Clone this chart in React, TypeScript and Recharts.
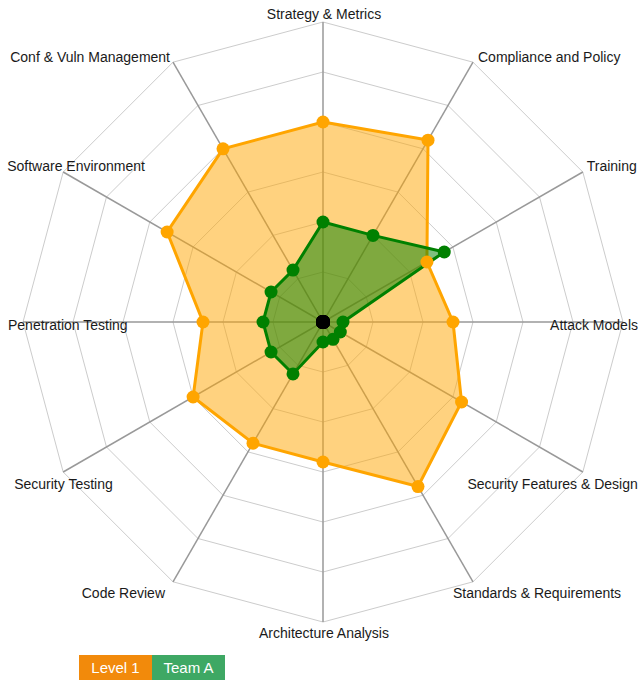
import { Legend, PolarAngleAxis, PolarGrid, PolarRadiusAxis, Radar, RadarChart } from "recharts";

const categories = [
  "Strategy & Metrics",
  "Compliance and Policy",
  "Training",
  "Attack Models",
  "Security Features & Design",
  "Standards & Requirements",
  "Architecture Analysis",
  "Code Review",
  "Security Testing",
  "Penetration Testing",
  "Software Environment",
  "Conf & Vuln Management",
];

const level1 = [4.0, 4.2, 2.4, 2.6, 3.2, 3.8, 2.8, 2.8, 3.0, 2.4, 3.6, 4.0];
const teamA = [2.0, 2.0, 2.8, 0.4, 0.4, 0.4, 0.4, 1.2, 1.2, 1.2, 1.2, 1.2];
const origin = [0, 0, 0, 0, 0, 0, 0, 0, 0, 0, 0, 0];

const data = categories.map((axis, i) => ({
  axis,
  level1: level1[i],
  teamA: teamA[i],
  origin: origin[i],
}));

const FONT = "Helvetica, Arial, 'Liberation Sans', sans-serif";
const TICK_GAP = 8; // recharts pushes angle ticks this far past the outer ring

// label placement relative to the end of each spoke, clockwise from the top
const LABEL_LAYOUT: { anchor: "start" | "middle" | "end"; dx: number; dy: number }[] = [
  { anchor: "middle", dx: 1, dy: -8 },
  { anchor: "start", dx: 5, dy: -5 },
  { anchor: "end", dx: 54, dy: -6 },
  { anchor: "end", dx: 15, dy: 3 },
  { anchor: "end", dx: 55, dy: 12 },
  { anchor: "start", dx: -20, dy: 11 },
  { anchor: "middle", dx: 1, dy: 11 },
  { anchor: "end", dx: -8, dy: 11 },
  { anchor: "start", dx: -49, dy: 12 },
  { anchor: "start", dx: -15, dy: 3 },
  { anchor: "start", dx: -56, dy: -6 },
  { anchor: "end", dx: -3, dy: -5 },
];

function AxisLabel(props: any) {
  const { x, y, payload, index } = props;
  const l = LABEL_LAYOUT[index] ?? { anchor: "middle", dx: 0, dy: 0 };
  const rad = (-(payload.coordinate ?? 0) * Math.PI) / 180;
  const ex = x - TICK_GAP * Math.cos(rad);
  const ey = y - TICK_GAP * Math.sin(rad);
  return (
    <text
      x={ex + l.dx}
      y={ey + l.dy}
      textAnchor={l.anchor}
      dominantBaseline="central"
      fontSize={14}
      fontFamily={FONT}
      fill="#1a1a1a"
    >
      {payload.value}
    </text>
  );
}

const LEGEND_COLORS: Record<string, string> = {
  level1: "#f28a0b",
  teamA: "#3ea864",
};

function LegendBoxes({ payload }: any) {
  return (
    <div style={{ display: "flex" }}>
      {(payload ?? []).map((p: any) => (
        <div
          key={p.value}
          style={{
            width: 73,
            height: 28,
            lineHeight: "26px",
            textAlign: "center",
            background: LEGEND_COLORS[p.dataKey] ?? p.color,
            color: "#fff",
            fontFamily: FONT,
            fontSize: 15,
          }}
        >
          {p.value}
        </div>
      ))}
    </div>
  );
}

export default function App() {
  return (
    <div style={{ position: "absolute", left: 0, top: 0, width: 640, height: 680, background: "#fff" }}>
      <RadarChart
        width={640}
        height={680}
        data={data}
        cx={323}
        cy={322}
        outerRadius={300}
        margin={{ top: 0, right: 0, bottom: 0, left: 0 }}
      >
        <PolarGrid gridType="polygon" stroke="#cccccc" strokeWidth={1} radialLines={false} />
        <PolarRadiusAxis domain={[0, 6]} tickCount={7} tick={false} axisLine={false} />
        <PolarAngleAxis
          dataKey="axis"
          tick={<AxisLabel />}
          tickLine={false}
          axisLine={false}
        />
        <PolarGrid gridType="polygon" stroke="#999999" strokeWidth={1.5} polarRadius={[]} />
        <Radar
          name="Level 1"
          dataKey="level1"
          stroke="#ffa500"
          strokeWidth={3}
          fill="#ffa500"
          fillOpacity={0.5}
          dot={{ r: 6.5, fill: "#ffa500", stroke: "none", fillOpacity: 1 }}
          isAnimationActive={false}
        />
        <Radar
          name="Team A"
          dataKey="teamA"
          stroke="#008000"
          strokeWidth={3}
          fill="#008000"
          fillOpacity={0.5}
          dot={{ r: 6.5, fill: "#008000", stroke: "none", fillOpacity: 1 }}
          isAnimationActive={false}
        />
        <Radar
          name="origin"
          dataKey="origin"
          stroke="none"
          fill="none"
          legendType="none"
          dot={{ r: 7, fill: "#000", stroke: "none", fillOpacity: 1 }}
          isAnimationActive={false}
        />
        <Legend
          content={<LegendBoxes />}
          wrapperStyle={{ left: 79, top: 655, bottom: "auto", width: "auto" }}
        />
      </RadarChart>
    </div>
  );
}
